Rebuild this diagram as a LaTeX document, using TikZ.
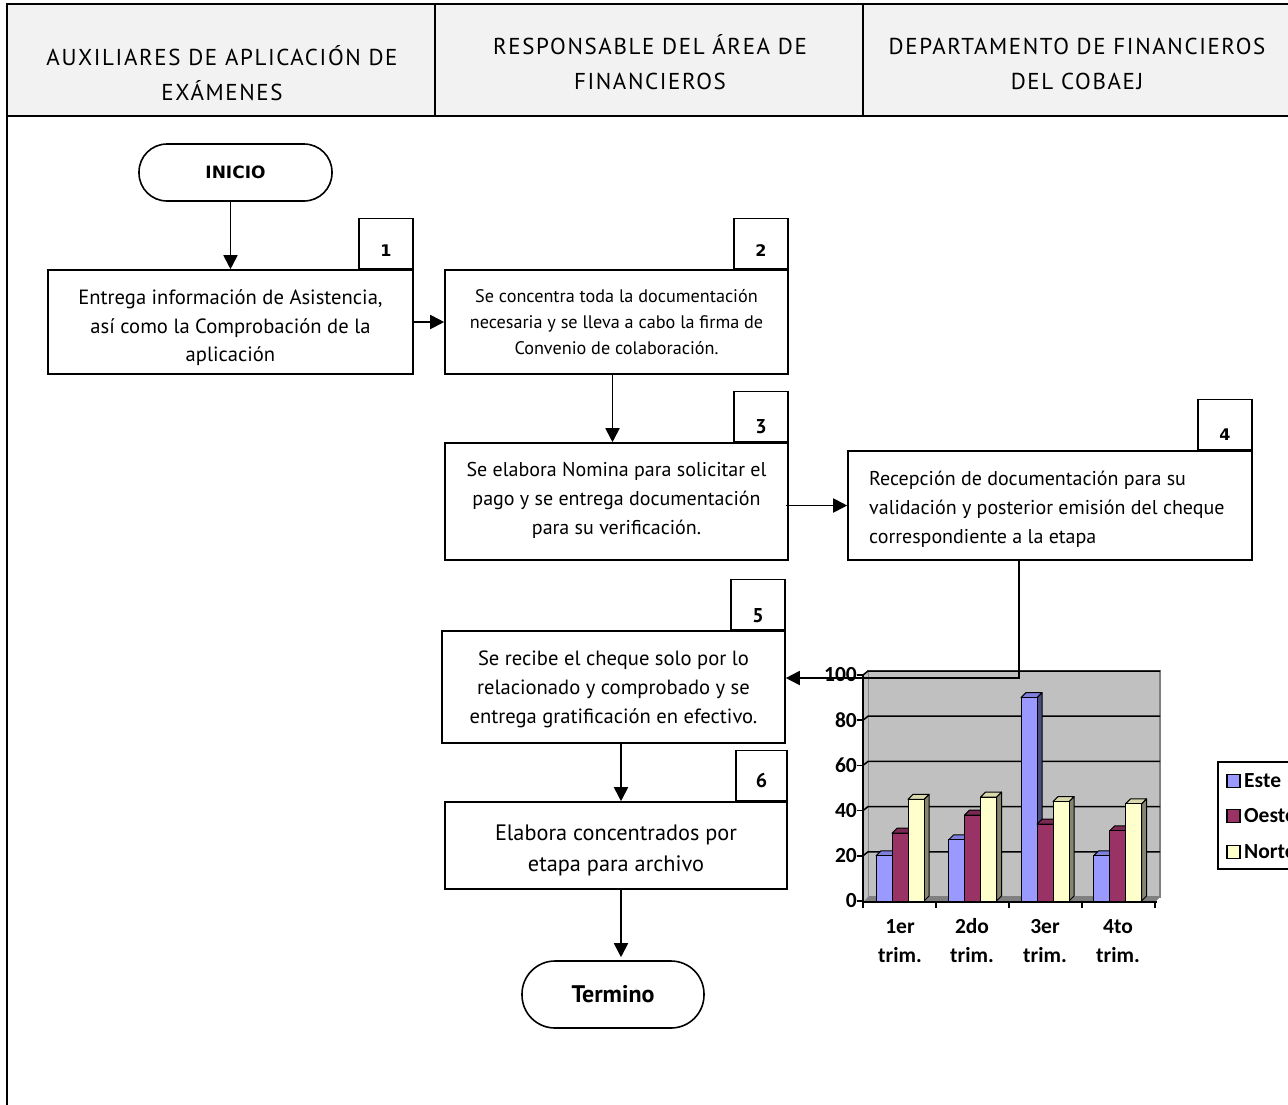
\documentclass[tikz,border=0pt]{standalone}
\usepackage{fontspec}
\setmainfont{PT Sans}
\newfontfamily\hdrfont{PT Sans}[LetterSpace=7.0]
\newfontfamily\numfont{DejaVu Sans}
\newfontfamily\chartfont{Carlito}
\usetikzlibrary{arrows.meta}
\definecolor{hdrbg}{HTML}{F2F2F2}
\definecolor{wall}{HTML}{C0C0C0}
\definecolor{floorc}{HTML}{808080}
\definecolor{esteF}{HTML}{9999FF}
\definecolor{esteT}{HTML}{7F7FE0}
\definecolor{esteS}{HTML}{4C4C80}
\definecolor{oesteF}{HTML}{993366}
\definecolor{oesteT}{HTML}{7A2952}
\definecolor{oesteS}{HTML}{4D1A33}
\definecolor{norteF}{HTML}{FFFFCC}
\definecolor{norteT}{HTML}{D9D9AD}
\definecolor{norteS}{HTML}{858570}
\tikzset{
  frame/.style={line width=1.6pt},
  box/.style={draw, line width=1.6pt, inner sep=0pt, fill=white},
  btxt/.style={align=center, inner sep=0pt},
  tabbox/.style={draw, line width=1.6pt, minimum width=54pt, minimum height=50pt, inner sep=0pt, fill=white},
  tabnum/.style={font=\numfont\bfseries\fontsize{16}{18}\selectfont, inner sep=0pt},
  tabnumb/.style={font=\bfseries\fontsize{20}{22}\selectfont, inner sep=0pt},
  term/.style={draw, line width=1.6pt, fill=white},
  arr/.style={line width=1.8pt, -{Triangle[width=14pt,length=14pt]}},
  hdr/.style={font=\hdrfont\fontsize{23}{35}\selectfont, align=center, inner sep=0pt},
  clbl/.style={font=\chartfont\bfseries\fontsize{21.5}{29}\selectfont, inner sep=0pt, align=center},
}
\begin{document}
\begin{tikzpicture}[x=1pt,y=-1pt]
\useasboundingbox (0,0) rectangle (1288,1104);
\clip (0,0) rectangle (1288,1104);
\fill[white] (0,0) rectangle (1288,1104);
% header
\fill[hdrbg] (7,4) rectangle (1300,116);
\draw[frame] (1300,4) -- (7,4) -- (7,1110);
\draw[frame] (7,116) -- (1300,116);
\draw[frame] (435,4) -- (435,116);
\draw[frame] (863,4) -- (863,116);
\node[hdr] (h1) at (222,73.5) {AUXILIARES DE APLICACIÓN DE\\EXÁMENES};
\node[hdr] (h2) at (650,62) {RESPONSABLE DEL ÁREA DE\\FINANCIEROS};
\node[hdr] (h3) at (1077,63.5) {DEPARTAMENTO DE FINANCIEROS\\DEL COBAEJ};

% start
\node[term, rounded corners=28pt, minimum width=193pt, minimum height=57pt,
  font=\numfont\bfseries\fontsize{17}{19}\selectfont] (ini) at (235.5,172.5) {INICIO};

% box 1
\node[box, minimum width=365pt, minimum height=104pt] (b1) at (230.5,322) {};
\node[btxt, font=\fontsize{20.6}{28.5}\selectfont] (x1) at (230.5,328)
  {Entrega información de Asistencia,\\así como la Comprobación de la\\aplicación};
\node[tabbox, anchor=south east] (t1) at (b1.north east) {};
\node[tabnum] (n1) at ([yshift=-7pt]t1.center) {1};

% box 2
\node[box, minimum width=343pt, minimum height=104pt] (b2) at (616.5,322) {};
\node[btxt, font=\fontsize{18.2}{26}\selectfont] (x2) at (616.5,322)
  {Se concentra toda la documentación\\necesaria y se lleva a cabo la firma de\\Convenio de colaboración.};
\node[tabbox, anchor=south east] (t2) at (b2.north east) {};
\node[tabnum] (n2) at ([yshift=-7pt]t2.center) {2};

% box 3
\node[box, minimum width=343pt, minimum height=117pt] (b3) at (616.5,501.5) {};
\node[btxt, font=\fontsize{20}{29}\selectfont] (x3) at (616.5,500.5)
  {Se elabora Nomina para solicitar el\\pago y se entrega documentación\\para su verificación.};
\node[tabbox, anchor=south east] (t3) at (b3.north east) {};
\node[tabnumb] (n3) at ([yshift=-10pt]t3.center) {3};

% box 4
\node[box, minimum width=404pt, minimum height=109pt] (b4) at (1050,505.5) {};
\node[btxt, align=left, anchor=west, font=\fontsize{20}{29}\selectfont] (x4) at (869,509.5)
  {Recepción de documentación para su\\validación y posterior emisión del cheque\\correspondiente a la etapa};
\node[tabbox, anchor=south east] (t4) at (b4.north east) {};
\node[tabnum] (n4) at ([yshift=-10pt]t4.center) {4};

% box 5
\node[box, minimum width=343pt, minimum height=112pt] (b5) at (613.5,687) {};
\node[btxt, font=\fontsize{20.6}{29}\selectfont] (x5) at (613.5,689.5)
  {Se recibe el cheque solo por lo\\relacionado y comprobado y se\\entrega gratificación en efectivo.};
\node[tabbox, anchor=south east] (t5) at (b5.north east) {};
\node[tabnumb] (n5) at ([yshift=-11pt]t5.center) {5};

% box 6
\node[box, minimum width=342pt, minimum height=87pt] (b6) at (616,845.5) {};
\node[btxt, font=\fontsize{22.3}{31}\selectfont] (x6) at (616,850)
  {Elabora concentrados por\\etapa para archivo};
\node[tabbox, anchor=south east, minimum width=51pt] (t6) at (b6.north east) {};
\node[tabnumb] (n6) at ([yshift=-5pt]t6.center) {6};

% end
\node[term, rounded corners=33pt, minimum width=182pt, minimum height=67pt,
  font=\bfseries\fontsize{24}{26}\selectfont] (fin) at (613,994.5) {Termino};

% ---- chart ----
\fill[wall, draw=floorc, line width=1.2pt] (868,671) rectangle (1160,897);
\fill[wall] (863,676) -- (868,671) -- (868,897) -- (863,902) -- cycle;
\fill[floorc] (863,902) -- (868,897) -- (1160,897) -- (1155,902) -- cycle;
\foreach \v in {20,40,60,80,100} {
  \pgfmathsetmacro\yy{901-\v*2.26}
  \draw[line width=1.5pt] (863,\yy) -- (868,\yy-4) -- (1160,\yy-4);
}
\foreach \g/\a/\b/\c in {0/20/30/45, 1/27/38/46, 2/90/34/44, 3/20/31/43} {
  \foreach \s/\v/\fc/\tc/\sc in {0/\a/esteF/esteT/esteS, 1/\b/oesteF/oesteT/oesteS, 2/\c/norteF/norteT/norteS} {
    \pgfmathsetmacro\xa{876+\g*72.5+\s*16}
    \pgfmathsetmacro\yt{901-\v*2.26}
    \filldraw[fill=\sc, line width=1pt, line join=round] (\xa+16,\yt) -- (\xa+21,\yt-5) -- (\xa+21,896) -- (\xa+16,901) -- cycle;
    \filldraw[fill=\tc, line width=1pt, line join=round] (\xa,\yt) -- (\xa+5,\yt-5) -- (\xa+21,\yt-5) -- (\xa+16,\yt) -- cycle;
    \filldraw[fill=\fc, line width=1pt] (\xa,901) rectangle (\xa+16,\yt);
  }
}
\draw[line width=1.8pt] (863,675) -- (863,902) -- (1157,902);
\foreach \v in {0,20,40,60,80,100} {
  \pgfmathsetmacro\yy{901-\v*2.26}
  \draw[line width=1.5pt] (857,\yy) -- (863,\yy);
  \node[clbl, anchor=east] at (857,\yy) {\v};
}
\foreach \xx in {863,936,1009,1082,1155} {
  \draw[line width=1.5pt] (\xx,902) -- (\xx,908);
}
\foreach \xx/\l in {900/1er, 972/2do, 1045/3er, 1118/4to} {
  \node[clbl] at (\xx,941) {\l\\trim.};
}
% legend
\draw[line width=1.6pt, fill=white] (1218,762) rectangle (1300,869);
\foreach \yy/\col/\nm in {781/esteF/Este, 816/oesteF/Oeste, 852/norteF/Norte} {
  \draw[line width=1.5pt, fill=\col] (1227,\yy-6.5) rectangle (1240,\yy+6.5);
  \node[clbl, anchor=west] at (1244,\yy) {\nm};
}

% ---- connectors ----
\draw[arr] (ini.south -| b1.north) -- (b1.north);
\draw[arr] (b1.east) -- (b2.west |- b1.east);
\draw[arr] ([xshift=-4pt]b2.south) -- ([xshift=-4pt]b3.north);
\draw[arr] ([xshift=-3pt]b3.east |- b4.west) -- (b4.west);
\draw[arr] ([xshift=-31pt]b4.south) |- ([yshift=9pt]b5.east);
\draw[arr] ([xshift=7.5pt]b5.south) -- ([xshift=5pt]b6.north);
\draw[arr] ([xshift=5pt]b6.south) -- ([xshift=8pt,yshift=3pt]fin.north);
\end{tikzpicture}
\end{document}
